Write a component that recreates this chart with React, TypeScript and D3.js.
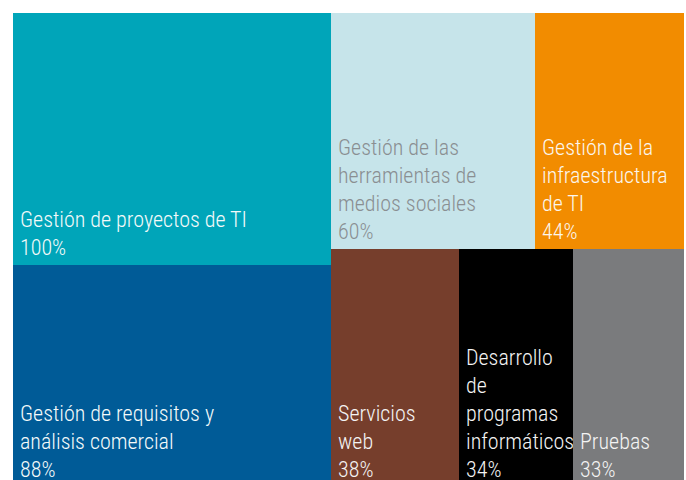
import React from "react";
import * as d3 from "d3";

// Data
const categories = [
  "Gestión de proyectos de TI",
  "Gestión de requisitos y\nanálisis comercial",
  "Gestión de las\nherramientas de\nmedios sociales",
  "Gestión de la\ninfraestructura\nde TI",
  "Servicios\nweb",
  "Desarrollo\nde\nprogramas\ninformáticos",
  "Pruebas",
];
const values = [100, 88, 60, 44, 38, 34, 33];
// layout grouping: column index, row index within the right column
const columnOf = [0, 0, 1, 1, 1, 1, 1];
const rowOf = [0, 1, 0, 0, 1, 1, 1];
const colors = ["#00a5b9", "#005b97", "#c6e4ea", "#f28c00", "#763e2c", "#000000", "#7a7b7d"];
const textColors = ["#f4fafa", "#f4fafa", "#8a8f92", "#fbf6ee", "#f4f4f4", "#f4f4f4", "#f4f4f4"];

const W = 686;
const H = 480;
const left = 13;
const top = 13;
const innerW = 671;
const innerH = 474;
const fontSize = 22;
const lineH = 28;
const padX = 7;
const padBottom = 10;

type Item = { name: string; value: number; index: number };
type Node = { name: string; children?: Node[]; value?: number; index?: number };

function buildTree(): Node {
  const items: Item[] = categories.map((c, i) => ({ name: c, value: values[i], index: i }));
  const cols = Array.from(new Set(columnOf));
  return {
    name: "root",
    children: cols.map((col) => {
      const inCol = items.filter((d) => columnOf[d.index] === col);
      if (col === 0) return { name: "col" + col, children: inCol };
      const rows = Array.from(new Set(inCol.map((d) => rowOf[d.index])));
      return {
        name: "col" + col,
        children: rows.map((r) => ({
          name: "row" + r,
          children: inCol.filter((d) => rowOf[d.index] === r),
        })),
      };
    }),
  };
}

export default function App() {
  const root = d3
    .hierarchy<Node>(buildTree())
    .sum((d) => (d.children ? 0 : d.value || 0));
  d3.treemap<Node>().size([innerW, innerH]).tile(d3.treemapSliceDice).round(true)(root);
  const leaves = root.leaves() as d3.HierarchyRectangularNode<Node>[];

  return (
    <svg
      width={W}
      height={H}
      style={{ position: "absolute", left: 0, top: 0, overflow: "hidden" }}
    >
      <g transform={`translate(${left},${top})`}>
        {leaves.map((leaf) => {
          const i = leaf.data.index as number;
          const lines = [...categories[i].split("\n"), `${values[i]}%`];
          const baseY = leaf.y1 - padBottom;
          return (
            <g key={i}>
              <rect
                x={leaf.x0}
                y={leaf.y0}
                width={leaf.x1 - leaf.x0}
                height={leaf.y1 - leaf.y0}
                fill={colors[i]}
              />
              <text
                fontFamily="'Roboto Condensed', 'Liberation Sans Narrow', sans-serif"
                fontWeight={300}
                fontSize={fontSize}
                fill={textColors[i]}
              >
                {lines.map((ln, k) => (
                  <tspan key={k} x={leaf.x0 + padX} y={baseY - (lines.length - 1 - k) * lineH}>
                    {ln}
                  </tspan>
                ))}
              </text>
            </g>
          );
        })}
      </g>
    </svg>
  );
}
